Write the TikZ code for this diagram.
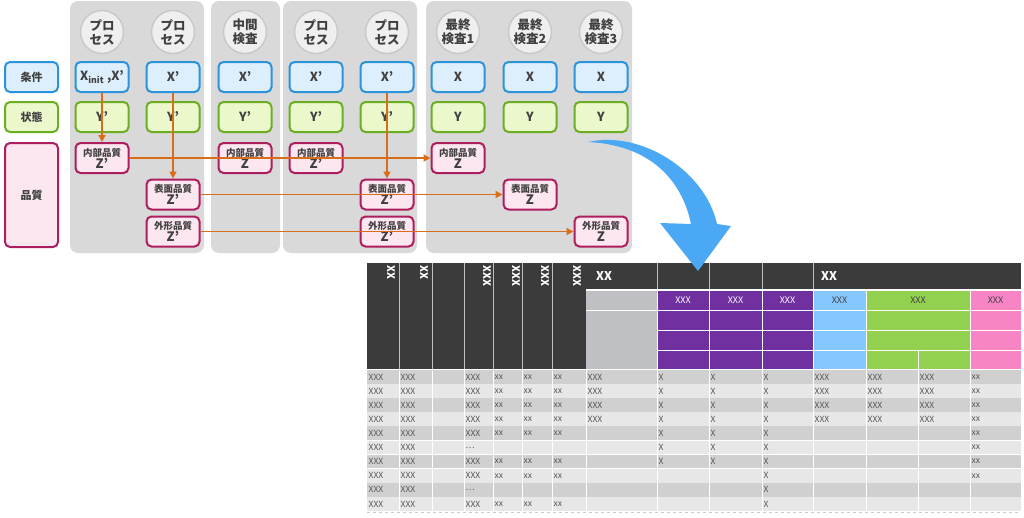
\documentclass[tikz,border=0pt]{standalone}
\usepackage{fontspec}
\setmainfont{Noto Sans CJK JP}
\usepackage{tikz}
\usetikzlibrary{positioning,calc,arrows.meta}

\definecolor{panelgray}{HTML}{D9D9D9}
\definecolor{circfill}{HTML}{EFEFEF}
\definecolor{circline}{HTML}{C9C9C9}
\definecolor{xfill}{HTML}{DDEFFC}
\definecolor{xline}{HTML}{2C92DA}
\definecolor{yfill}{HTML}{EAF8CC}
\definecolor{yline}{HTML}{6BAE24}
\definecolor{zfill}{HTML}{FCE6F0}
\definecolor{zline}{HTML}{AD1E5E}
\definecolor{floworange}{HTML}{D86E1A}
\definecolor{txtgray}{HTML}{404040}
\definecolor{hdark}{HTML}{3B3B3B}
\definecolor{subgray}{HTML}{BEC0C3}
\definecolor{hpurple}{HTML}{7030A0}
\definecolor{hblue}{HTML}{87C7FF}
\definecolor{hgreen}{HTML}{92D050}
\definecolor{hpink}{HTML}{F785C6}
\definecolor{rowdark}{HTML}{D0D0D0}
\definecolor{rowlight}{HTML}{E7E7E7}
\definecolor{bodytxt}{HTML}{555555}
\definecolor{bigblue}{HTML}{4AA8F5}

\begin{document}
\begin{tikzpicture}[x=1pt, y=-1pt,
    every node/.style={text=txtgray},
    panel/.style={fill=panelgray, rounded corners=8pt},
    stage/.style={circle, draw=circline, fill=circfill, line width=1.5pt, minimum size=43pt, inner sep=0pt, align=center, font=\bfseries\fontsize{12.5}{14}\selectfont},
    xbox/.style={draw=xline, fill=xfill, line width=2pt, rounded corners=5pt, minimum width=53pt, minimum height=30pt, inner sep=0pt, align=center, font=\bfseries\fontsize{12.5}{13}\selectfont},
    ybox/.style={xbox, draw=yline, fill=yfill},
    zbox/.style={xbox, draw=zline, fill=zfill},
    flow/.style={draw=floworange, line width=1.5pt, -{Triangle[length=7pt,width=7pt]}},
    sep/.style={draw=white!75!black, line width=0.6pt},
    wline/.style={draw=white, line width=1pt},
    vhead/.style={rotate=-90, anchor=west, inner sep=0pt, text=white, font=\bfseries\fontsize{10.5}{10.5}\selectfont},
    subhead/.style={inner sep=0pt, font=\fontsize{9}{9}\selectfont},
    cell/.style={anchor=west, inner sep=0pt, text=bodytxt, font=\fontsize{8.5}{9}\selectfont}
  ]
    \useasboundingbox (0,0) rectangle (1024,517);

    % Panels
    \fill[panel] (70,1) rectangle (204,253);
    \fill[panel] (211,1) rectangle (280,253);
    \fill[panel] (283,1) rectangle (417,253);
    \fill[panel] (426,1) rectangle (632,253);

    % Row labels
    \node[xbox, font=\bfseries\fontsize{11}{12}\selectfont] (jouken) at (31.5,77) {条件};
    \node[ybox, font=\bfseries\fontsize{11}{12}\selectfont] (joutai) at (31.5,117) {状態};
    \node[zbox, minimum height=104pt, font=\bfseries\fontsize{11}{12}\selectfont] (hinshitsu) at (31.5,195) {品質};

    % Stages
    \foreach \n/\x/\stg/\xv/\yv in {
        c1/102/{プロ\\セス}/{X\textsubscript{init} ,X'}/{Y'},
        c2/173/{プロ\\セス}/{X'}/{Y'},
        c3/245/{中間\\検査}/{X'}/{Y'},
        c4/316/{プロ\\セス}/{X'}/{Y'},
        c5/387/{プロ\\セス}/{X'}/{Y'},
        c6/458/{最終\\検査1}/X/Y,
        c7/530/{最終\\検査2}/X/Y,
        c8/601/{最終\\検査3}/X/Y} {
        \node[stage] (\n-p) at (\x,32) {\stg};
        \node[xbox] (\n-x) at (\x,77) {\xv};
        \node[ybox] (\n-y) at (\x,117) {\yv};
    }

    % Quality boxes
    \foreach \n/\x/\y/\kind/\zv in {
        c1-in/102/158/内部品質/{Z'}, c3-in/245/158/内部品質/Z,
        c4-in/316/158/内部品質/{Z'}, c6-in/458/158/内部品質/Z,
        c2-sf/173/194.5/表面品質/{Z'}, c5-sf/387/194.5/表面品質/{Z'},
        c7-sf/530/194.5/表面品質/Z,
        c2-gk/173/231.5/外形品質/{Z'}, c5-gk/387/231.5/外形品質/{Z'},
        c8-gk/601/231.5/外形品質/Z} {
        \node[zbox] (\n) at (\x,\y) {{\fontsize{9.5}{10}\selectfont\kind}\\[-1pt]{\fontsize{13}{14}\selectfont\zv}};
    }

    % Flows
    \draw[flow] (c1-x.south) -- (c1-in.north);
    \draw[flow] (c2-x.south) -- (c2-sf.north);
    \draw[flow] (c5-x.south) -- (c5-sf.north);
    \draw[flow] (c1-in.east) -- (c6-in.west);
    \draw[flow] (c2-sf.east) -- (c7-sf.west);
    \draw[flow] (c2-gk.east) -- (c8-gk.west);

    % Table header
    \fill[hdark] (367,263) rectangle (586,369);
    \fill[hdark] (586,263) rectangle (1021,289);
    \foreach \x in {399,432,464,493,522,552} \draw[sep] (\x,263) -- (\x,369);
    \foreach \x in {657,709,762,813} \draw[sep] (\x,263) -- (\x,289);
    \foreach \n/\x/\t in {h1/391/XX, h2/424/XX, h4/487/XXX, h5/516/XXX, h6/545/XXX, h7/577/XXX}
        \node[vhead] (\n) at (\x,265) {\t};
    \node[anchor=west, inner sep=0pt, text=white, font=\bfseries\fontsize{12}{12}\selectfont] (g1) at (596,276) {XX};
    \node[anchor=west, inner sep=0pt, text=white, font=\bfseries\fontsize{12}{12}\selectfont] (g2) at (821,276) {XX};

    % Sub header
    \fill[subgray] (586,291) rectangle (657,369);
    \fill[hpurple] (657,291) rectangle (813,369);
    \fill[hblue] (813,291) rectangle (866,369);
    \fill[hgreen] (866,291) rectangle (970,369);
    \fill[hpink] (970,291) rectangle (1021,369);
    \foreach \x in {657,709,762,813,866,970} \draw[wline] (\x,291) -- (\x,369);
    \draw[wline] (918,350) -- (918,369);
    \draw[wline] (586,310) -- (1021,310);
    \foreach \y in {330,350} \draw[wline] (657,\y) -- (1021,\y);
    \foreach \n/\x/\c in {s1/683/white, s2/735.5/white, s3/787.5/white, s4/839.5/txtgray, s5/918/txtgray, s6/995.5/txtgray}
        \node[subhead, text=\c] (\n) at (\x,300.5) {XXX};

    % Table body
    \foreach \r in {1,...,10} {
        \pgfmathsetmacro\yt{370+(\r-1)*14.1}
        \pgfmathsetmacro\yb{\yt+14.1}
        \pgfmathparse{mod(\r,2)==1 ? "rowdark" : "rowlight"}
        \fill[\pgfmathresult] (367,\yt) rectangle (1021,\yb);
        \draw[wline, line width=0.6pt] (367,\yb) -- (1021,\yb);
    }
    \foreach \x in {399,432,464,493,522,552,586,657,709,762,813,866,918,970}
        \draw[wline] (\x,370) -- (\x,511);
    \draw[white!80!black, dashed, line width=0.5pt] (367,512) -- (1021,512);
    \foreach \r/\cells in {
        1/{XXX,XXX,,XXX,xx,xx,xx,XXX,X,X,X,XXX,XXX,XXX,xx},
        2/{XXX,XXX,,XXX,xx,xx,xx,XXX,X,X,X,XXX,XXX,XXX,xx},
        3/{XXX,XXX,,XXX,xx,xx,xx,XXX,X,X,X,XXX,XXX,XXX,xx},
        4/{XXX,XXX,,XXX,xx,xx,xx,XXX,X,X,X,XXX,XXX,XXX,xx},
        5/{XXX,XXX,,XXX,xx,xx,xx,,X,X,X,,,,xx},
        6/{XXX,XXX,,…,,,,,X,X,X,,,,xx},
        7/{XXX,XXX,,XXX,xx,xx,xx,,X,X,X,,,,xx},
        8/{XXX,XXX,,XXX,xx,xx,xx,,,,X,,,,xx},
        9/{XXX,XXX,,…,,,,,,,X,,,,},
        10/{XXX,XXX,,XXX,xx,xx,xx,,,,X,,,,}} {
        \foreach \t [count=\c] in \cells {
            \pgfmathsetmacro\cx{{367,399,432,464,493,522,552,586,657,709,762,813,866,918,970}[\c-1]+1.5}
            \pgfmathsetmacro\cy{370+(\r-0.5)*14.1}
            \node[cell] (t-\r-\c) at (\cx,\cy) {\t};
        }
    }

    % Big arrow
    \fill[bigblue] (588,142) .. controls (640,130) and (705,170) .. (717,224)
        -- (731,226) -- (698,271) -- (660,223) -- (691,224)
        .. controls (682,180) and (650,145) .. (588,142) -- cycle;
\end{tikzpicture}
\end{document}
